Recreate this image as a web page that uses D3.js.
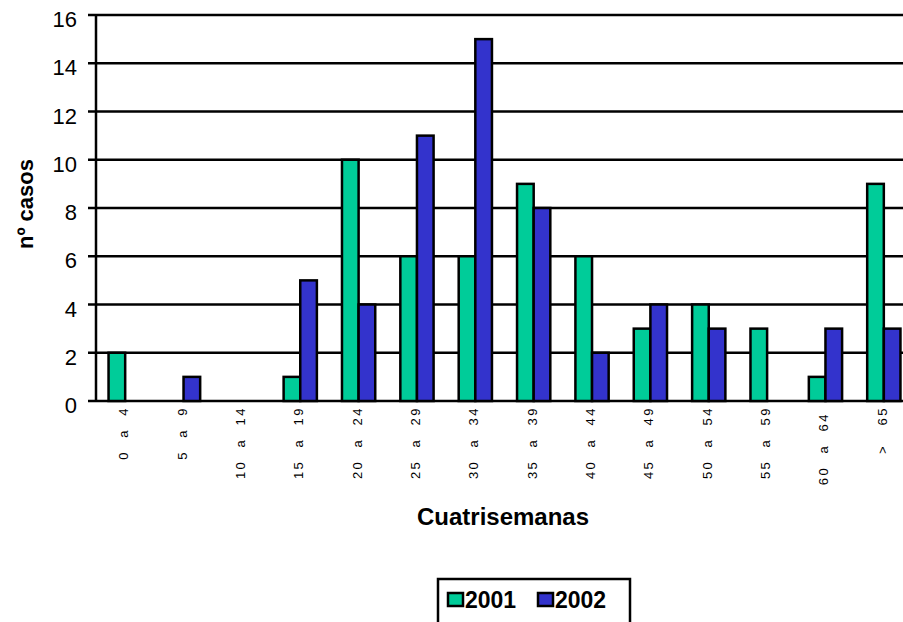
<!DOCTYPE html>
<html>
<head>
<meta charset="utf-8">
<script src="https://cdn.jsdelivr.net/npm/d3@7.9.0/dist/d3.min.js"></script>
<style>
  body { margin: 0; background: #fff; }
  svg { display: block; font-family: "Liberation Sans", Arial, sans-serif; }
</style>
</head>
<body>
<svg id="chart" width="903" height="622"></svg>
<script>
// categories (age groups) and counts per year
const categories = ["0  a  4", "5  a  9", "10  a  14", "15  a  19", "20  a  24", "25  a  29",
  "30  a  34", "35  a  39", "40  a  44", "45  a  49", "50  a  54", "55  a  59", "60  a  64 ", ">   65"];
const years = ["2001", "2002"];
const values2001 = [2, 0, 0, 1, 10, 6, 6, 9, 6, 3, 4, 3, 1, 9];
const values2002 = [0, 1, 0, 5, 4, 11, 15, 8, 2, 4, 3, 0, 3, 3];
const yTicks = [0, 2, 4, 6, 8, 10, 12, 14, 16];

const colors = { "2001": "#00cc99", "2002": "#3333cc" };
const series = { "2001": values2001, "2002": values2002 };

const svg = d3.select("#chart");
const plot = { left: 96, right: 913, top: 15, bottom: 401 };

const x = d3.scaleBand()
  .domain(categories)
  .range([plot.left, plot.right])
  .paddingInner(0.43)
  .paddingOuter(0.215);

const xInner = d3.scaleBand()
  .domain(years)
  .range([0, x.bandwidth()]);

const y = d3.scaleLinear()
  .domain([0, 16])
  .range([plot.bottom, plot.top]);

// gridlines + tick marks
svg.append("g")
  .selectAll("line")
  .data(yTicks)
  .join("line")
  .attr("x1", plot.left - 8)
  .attr("x2", 903)
  .attr("y1", d => y(d))
  .attr("y2", d => y(d))
  .attr("stroke", "#000")
  .attr("stroke-width", 2.5);

// y tick labels
svg.append("g")
  .selectAll("text")
  .data(yTicks)
  .join("text")
  .attr("x", 77)
  .attr("y", d => y(d) + 12)
  .attr("text-anchor", "end")
  .attr("font-size", 22)
  .text(d => d);

// bars
const rows = categories.flatMap((c, i) => years.map(yr => ({ cat: c, year: yr, value: series[yr][i] })));

svg.append("g")
  .selectAll("rect")
  .data(rows.filter(d => d.value > 0))
  .join("rect")
  .attr("x", d => x(d.cat) + xInner(d.year))
  .attr("y", d => y(d.value))
  .attr("width", xInner.bandwidth())
  .attr("height", d => y(0) - y(d.value))
  .attr("fill", d => colors[d.year])
  .attr("stroke", "#000")
  .attr("stroke-width", 2.5);

// y axis line
svg.append("line")
  .attr("x1", plot.left).attr("x2", plot.left)
  .attr("y1", plot.top).attr("y2", plot.bottom)
  .attr("stroke", "#000")
  .attr("stroke-width", 2.5);

// x tick labels (rotated)
svg.append("g")
  .selectAll("text")
  .data(categories)
  .join("text")
  .attr("transform", d => `translate(${x(d) + x.bandwidth() / 2 + 3},406) rotate(-90)`)
  .attr("text-anchor", "end")
  .attr("font-size", 13)
  .attr("letter-spacing", "2.5px")
  .style("white-space", "pre")
  .text(d => d);

// axis titles
svg.append("text")
  .attr("x", 503)
  .attr("y", 525)
  .attr("text-anchor", "middle")
  .attr("font-size", 24)
  .attr("font-weight", "bold")
  .text("Cuatrisemanas");

svg.append("text")
  .attr("transform", "translate(33,204) rotate(-90)")
  .attr("text-anchor", "middle")
  .attr("font-size", 22)
  .attr("font-weight", "bold")
  .text("nº casos");

// legend
const legend = svg.append("g");
legend.append("rect")
  .attr("x", 438).attr("y", 579)
  .attr("width", 192).attr("height", 60)
  .attr("fill", "#fff")
  .attr("stroke", "#000")
  .attr("stroke-width", 2.5);

const legendX = d3.scalePoint().domain(years).range([448, 538]);

legend.selectAll("rect.sw")
  .data(years)
  .join("rect")
  .attr("class", "sw")
  .attr("x", d => legendX(d))
  .attr("y", 593)
  .attr("width", 15)
  .attr("height", 13)
  .attr("fill", d => colors[d])
  .attr("stroke", "#000")
  .attr("stroke-width", 2.5);

legend.selectAll("text")
  .data(years)
  .join("text")
  .attr("x", d => legendX(d) + 17)
  .attr("y", 608)
  .attr("font-size", 23)
  .attr("font-weight", "bold")
  .text(d => d);
</script>
</body>
</html>
